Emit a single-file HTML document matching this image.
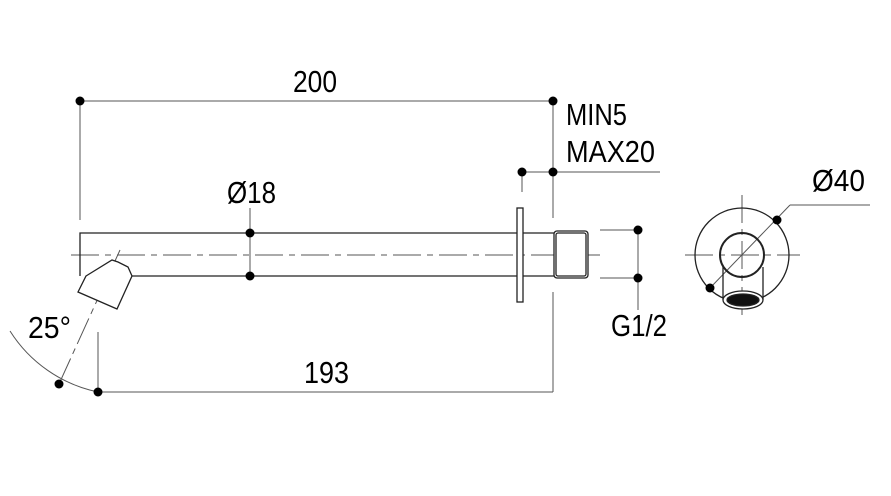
<!DOCTYPE html>
<html><head><style>html,body{margin:0;padding:0;background:#fff;}svg{display:block}</style></head>
<body>
<svg width="891" height="496" viewBox="0 0 891 496" xmlns="http://www.w3.org/2000/svg" font-family="Liberation Sans, sans-serif" font-size="31" fill="none">
<g stroke="#555" stroke-width="1">
<line x1="80" y1="101" x2="553" y2="101"/>
<line x1="80" y1="101" x2="80" y2="220"/>
<line x1="553" y1="101" x2="553" y2="218"/>
<line x1="522" y1="172" x2="660" y2="172"/>
<line x1="522" y1="172" x2="522" y2="192"/>
<line x1="98" y1="392" x2="553" y2="392"/>
<line x1="98" y1="332" x2="98" y2="392"/>
<line x1="553" y1="292" x2="553" y2="392"/>
<line x1="250" y1="208" x2="250" y2="276"/>
<line x1="600" y1="230" x2="638" y2="230"/>
<line x1="600" y1="278" x2="638" y2="278"/>
<line x1="638" y1="230" x2="638" y2="310"/>
<path d="M10 331 A137 137 0 0 0 98 392"/>
<line x1="59" y1="384" x2="120" y2="250" stroke-dasharray="28 5 6 5"/>
<line x1="71" y1="255" x2="600" y2="255" stroke-dasharray="28 6 6 6"/>
<line x1="685" y1="255" x2="800" y2="255" stroke-dasharray="28 6 6 6"/>
<line x1="742" y1="195" x2="742" y2="315" stroke-dasharray="28 6 6 6"/>
<line x1="710" y1="288" x2="790" y2="205"/>
<line x1="790" y1="205" x2="870" y2="205"/>
</g>
<g stroke="#222" stroke-width="1.3">
<path d="M80 276 V233 H554 M128 276 H554"/>
<polygon points="86,276 112,260 118,262 128,267 132,276 117,309 78,292" fill="#fff"/>
<rect x="517" y="208" width="6" height="94" fill="#fff"/>
<rect x="554" y="231" width="34" height="47" rx="3" fill="#fff"/>
<rect x="556" y="233" width="30" height="43" rx="2"/>
<circle cx="742" cy="255" r="47"/>
<circle cx="742" cy="255" r="22" stroke-width="2"/>
<line x1="723" y1="267" x2="723" y2="300"/>
<line x1="763" y1="267" x2="763" y2="300"/>
<ellipse cx="743" cy="300" rx="20" ry="9" fill="#fff"/>
<ellipse cx="743" cy="300" rx="16" ry="6" fill="#111"/>
</g>
<g fill="#000">
<circle cx="80" cy="101" r="4.5"/><circle cx="553" cy="101" r="4.5"/>
<circle cx="522" cy="172" r="4.5"/><circle cx="553" cy="172" r="4.5"/>
<circle cx="250" cy="233" r="4.5"/><circle cx="250" cy="276" r="4.5"/>
<circle cx="638" cy="230" r="4.5"/><circle cx="638" cy="278" r="4.5"/>
<circle cx="98" cy="392" r="4.5"/><circle cx="59" cy="384" r="4.5"/>
<circle cx="777" cy="220" r="4.5"/><circle cx="710" cy="288" r="4.5"/>
<text x="293" y="92" textLength="44" lengthAdjust="spacingAndGlyphs">200</text>
<text x="227" y="203" textLength="49" lengthAdjust="spacingAndGlyphs">Ø18</text>
<text x="566" y="125" textLength="61" lengthAdjust="spacingAndGlyphs">MIN5</text>
<text x="566" y="162" textLength="89" lengthAdjust="spacingAndGlyphs">MAX20</text>
<text x="812" y="191" textLength="53" lengthAdjust="spacingAndGlyphs">Ø40</text>
<text x="611" y="336" textLength="56" lengthAdjust="spacingAndGlyphs">G1/2</text>
<text x="304" y="383" textLength="45" lengthAdjust="spacingAndGlyphs">193</text>
<text x="28" y="338" textLength="43" lengthAdjust="spacingAndGlyphs">25°</text>
</g>
</svg>
</body></html>
